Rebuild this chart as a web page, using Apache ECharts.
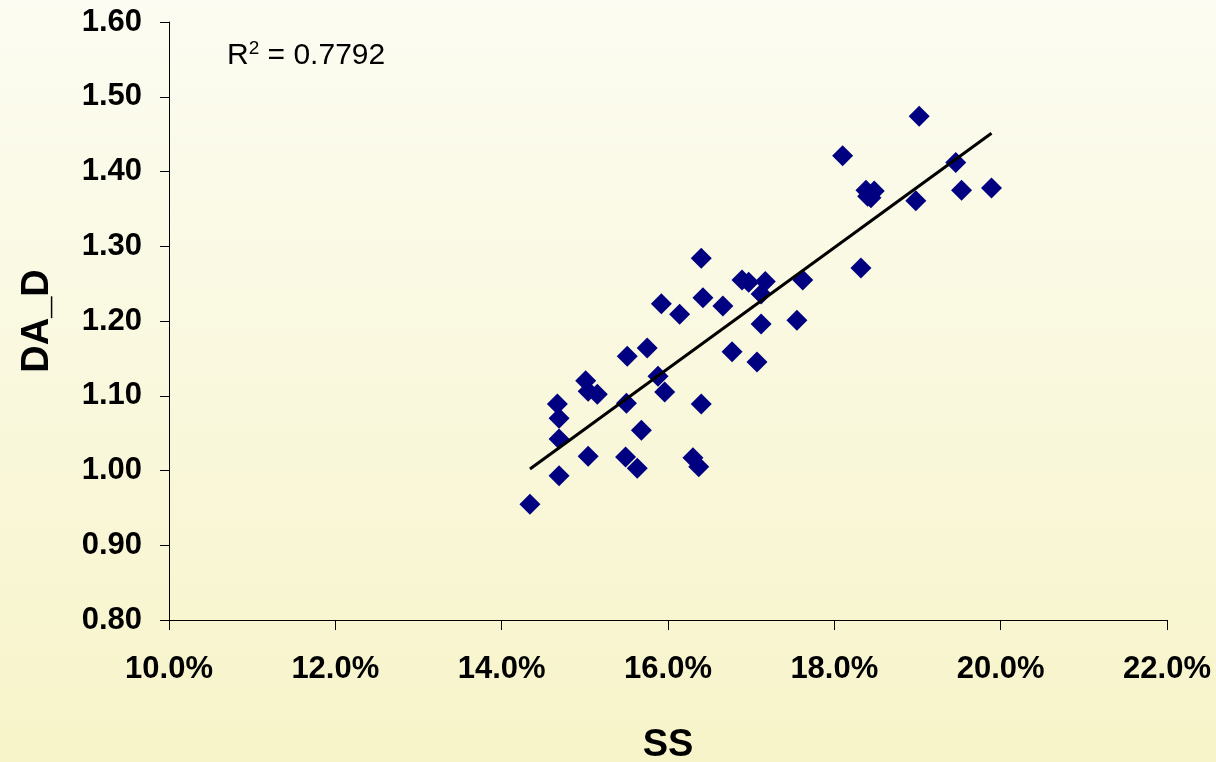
<!DOCTYPE html>
<html>
<head>
<meta charset="utf-8">
<script src="https://cdn.jsdelivr.net/npm/echarts@6/dist/echarts.min.js"></script>
<style>
    html, body { margin: 0; padding: 0; }
    #chart { width: 1216px; height: 762px; }
</style>
</head>
<body>
<div id="chart"></div>
<script>
    // SS (%) and DA_D
    const ssValues = [
        14.34, 14.69, 14.69, 14.69, 14.67, 15.04, 15.01, 15.04, 15.15, 15.49,
        15.50, 15.51, 15.63, 15.68, 15.75, 15.88, 15.96, 15.92, 16.14, 16.30,
        16.37, 16.40, 16.40, 16.42, 16.66, 16.77, 16.89, 16.97, 17.07, 17.12,
        17.12, 17.17, 17.55, 17.62, 18.10, 18.32, 18.38, 18.40, 18.44, 18.48,
        18.98, 19.02, 19.46, 19.53, 19.89
    ];
    const dadValues = [
        0.955, 0.993, 1.042, 1.070, 1.089, 1.019, 1.120, 1.106, 1.102, 1.018,
        1.090, 1.153, 1.003, 1.054, 1.164, 1.126, 1.105, 1.223, 1.209, 1.017,
        1.005, 1.089, 1.284, 1.231, 1.220, 1.159, 1.255, 1.252, 1.145, 1.196,
        1.236, 1.253, 1.201, 1.255, 1.421, 1.271, 1.375, 1.367, 1.365, 1.374,
        1.361, 1.474, 1.412, 1.375, 1.378
    ];
    const xTicks = { min: 10, max: 22, interval: 2 };
    const yTicks = { min: 0.8, max: 1.6, interval: 0.1 };
    const rSquared = "0.7792";

    const points = ssValues.map((x, i) => [x, dadValues[i]]);

    // least squares trend line over the range of the data
    const n = ssValues.length;
    const mx = ssValues.reduce((a, b) => a + b, 0) / n;
    const my = dadValues.reduce((a, b) => a + b, 0) / n;
    let sxy = 0, sxx = 0;
    for (let i = 0; i < n; i++) {
        sxy += (ssValues[i] - mx) * (dadValues[i] - my);
        sxx += (ssValues[i] - mx) * (ssValues[i] - mx);
    }
    const slope = sxy / sxx;
    const icpt = my - slope * mx;
    const xLo = Math.min(...ssValues), xHi = Math.max(...ssValues);
    const trend = [[xLo, icpt + slope * xLo], [xHi, icpt + slope * xHi]];

    const font = "'Liberation Sans', Arial, sans-serif";
    const chart = echarts.init(document.getElementById("chart"));

    const option = {
        animation: false,
        backgroundColor: new echarts.graphic.LinearGradient(0, 0, 0, 1, [
            { offset: 0, color: "#fcfcf2" },
            { offset: 1, color: "#f7f4c9" }
        ]),
        title: {
            text: "{a|R}{s|2}{a| = " + rSquared + "}",
            left: 227,
            top: 39,
            padding: 0,
            textStyle: {
                fontWeight: "normal",
                rich: {
                    a: { fontFamily: font, fontSize: 30, fontWeight: "normal", lineHeight: 34, color: "#000" },
                    s: { fontFamily: font, fontSize: 19, fontWeight: "normal", lineHeight: 34, color: "#000", verticalAlign: "top" }
                }
            }
        },
        grid: { left: 169, right: 49, top: 22, bottom: 142, outerBoundsMode: "none" },
        xAxis: {
            type: "value",
            min: xTicks.min,
            max: xTicks.max,
            interval: xTicks.interval,
            name: "SS",
            nameLocation: "middle",
            nameGap: 107,
            nameTextStyle: { fontFamily: font, fontSize: 38, fontWeight: "bold", color: "#000" },
            axisLine: { lineStyle: { color: "#000", width: 1 } },
            axisTick: { length: 10, lineStyle: { color: "#000" } },
            splitLine: { show: false },
            axisLabel: {
                margin: 34,
                fontFamily: font, fontSize: 31, fontWeight: "bold", color: "#000",
                formatter: v => v.toFixed(1) + "%"
            }
        },
        yAxis: {
            type: "value",
            min: yTicks.min,
            max: yTicks.max,
            interval: yTicks.interval,
            name: "DA_D",
            nameLocation: "middle",
            nameGap: 112,
            nameRotate: 90,
            nameTextStyle: { fontFamily: font, fontSize: 38, fontWeight: "bold", color: "#000" },
            axisLine: { show: true, lineStyle: { color: "#000", width: 1 } },
            axisTick: { show: true, length: 9, lineStyle: { color: "#000" } },
            splitLine: { show: false },
            axisLabel: {
                margin: 27,
                fontFamily: font, fontSize: 31, fontWeight: "bold", color: "#000",
                formatter: v => v.toFixed(2)
            }
        },
        series: [
            {
                type: "scatter",
                data: points,
                symbol: "diamond",
                symbolSize: 21,
                itemStyle: { color: "#000080", opacity: 1 }
            },
            {
                type: "line",
                data: trend,
                symbol: "none",
                z: 3,
                lineStyle: { color: "#000", width: 3 }
            }
        ]
    };
    chart.setOption(option);
</script>
</body>
</html>
